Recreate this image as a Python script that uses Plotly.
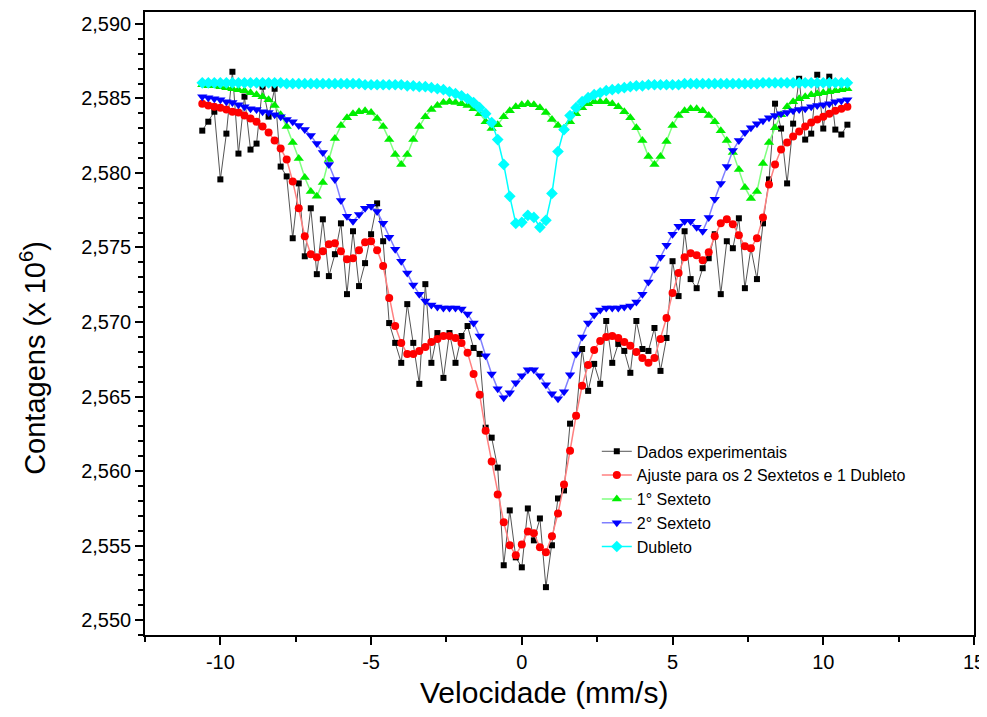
import plotly.graph_objects as go

velocidade = [
    -10.6, -10.4, -10.2, -10.0, -9.8, -9.6, -9.4, -9.2, -9.0, -8.8,
    -8.6, -8.4, -8.2, -8.0, -7.8, -7.6, -7.4, -7.2, -7.0, -6.8,
    -6.6, -6.4, -6.2, -6.0, -5.8, -5.6, -5.4, -5.2, -5.0, -4.8,
    -4.6, -4.4, -4.2, -4.0, -3.8, -3.6, -3.4, -3.2, -3.0, -2.8,
    -2.6, -2.4, -2.2, -2.0, -1.8, -1.6, -1.4, -1.2, -1.0, -0.8,
    -0.6, -0.4, -0.2, 0.0, 0.2, 0.4, 0.6, 0.8, 1.0, 1.2,
    1.4, 1.6, 1.8, 2.0, 2.2, 2.4, 2.6, 2.8, 3.0, 3.2,
    3.4, 3.6, 3.8, 4.0, 4.2, 4.4, 4.6, 4.8, 5.0, 5.2,
    5.4, 5.6, 5.8, 6.0, 6.2, 6.4, 6.6, 6.8, 7.0, 7.2,
    7.4, 7.6, 7.8, 8.0, 8.2, 8.4, 8.6, 8.8, 9.0, 9.2,
    9.4, 9.6, 9.8, 10.0, 10.2, 10.4, 10.6, 10.8,
]

dados_experimentais = [
    2.58284, 2.58344, 2.58411, 2.57957, 2.58264, 2.58679, 2.58130, 2.58512, 2.58157, 2.58197,
    2.58579, 2.58378, 2.58565, 2.58043, 2.57977, 2.57562, 2.57930, 2.57441, 2.57763, 2.57321,
    2.57689, 2.57308, 2.57455, 2.57662, 2.57187, 2.57609, 2.57241, 2.57395, 2.57589, 2.57796,
    2.57542, 2.56993, 2.56860, 2.56726, 2.57120, 2.56860, 2.56585, 2.57254, 2.56726, 2.56926,
    2.56625, 2.56926, 2.56726, 2.56906, 2.56973, 2.56826, 2.56786, 2.56291, 2.56224, 2.56023,
    2.55368, 2.55736, 2.55421, 2.55354, 2.55749, 2.55535, 2.55682, 2.55221, 2.55502, 2.55816,
    2.55870, 2.56318, 2.56371, 2.56819, 2.56538, 2.56719, 2.56585, 2.57007, 2.56726, 2.56853,
    2.56806, 2.56659, 2.57007, 2.56819, 2.56806, 2.56960, 2.56672, 2.56893, 2.57408, 2.57174,
    2.57609, 2.57288, 2.57227, 2.57361, 2.57428, 2.57589, 2.57187, 2.57542, 2.57495, 2.57696,
    2.57227, 2.57495, 2.57288, 2.57662, 2.57957, 2.58465, 2.58298, 2.57930, 2.58331, 2.58632,
    2.58224, 2.58264, 2.58659, 2.58298, 2.58646, 2.58291, 2.58258, 2.58324,
]

ajuste_total = [
    2.58465, 2.58452, 2.58445, 2.58438, 2.58425, 2.58411, 2.58405, 2.58385, 2.58365, 2.58344,
    2.58311, 2.58271, 2.58217, 2.58164, 2.58090, 2.57943, 2.57763, 2.57575, 2.57455, 2.57435,
    2.57475, 2.57522, 2.57528, 2.57475, 2.57421, 2.57428, 2.57482, 2.57535, 2.57542, 2.57482,
    2.57375, 2.57161, 2.56973, 2.56860, 2.56786, 2.56786, 2.56806, 2.56833, 2.56866, 2.56886,
    2.56906, 2.56906, 2.56893, 2.56860, 2.56793, 2.56652, 2.56512, 2.56271, 2.56064, 2.55843,
    2.55656, 2.55502, 2.55435, 2.55508, 2.55595, 2.55582, 2.55488, 2.55455, 2.55562, 2.55716,
    2.55910, 2.56137, 2.56371, 2.56572, 2.56712, 2.56813, 2.56873, 2.56900, 2.56906, 2.56893,
    2.56866, 2.56840, 2.56799, 2.56759, 2.56726, 2.56759, 2.56886, 2.57027, 2.57194, 2.57328,
    2.57435, 2.57462, 2.57448, 2.57415, 2.57468, 2.57575, 2.57662, 2.57689, 2.57656, 2.57582,
    2.57508, 2.57495, 2.57562, 2.57702, 2.57923, 2.58057, 2.58157, 2.58204, 2.58244, 2.58278,
    2.58311, 2.58338, 2.58358, 2.58378, 2.58398, 2.58418, 2.58431, 2.58445,
]

sexteto_1 = [
    2.58592, 2.58585, 2.58585, 2.58579, 2.58572, 2.58565, 2.58559, 2.58552, 2.58538, 2.58525,
    2.58512, 2.58492, 2.58452, 2.58391, 2.58311, 2.58204, 2.58097, 2.57970, 2.57876, 2.57843,
    2.57936, 2.58090, 2.58231, 2.58318, 2.58371, 2.58398, 2.58411, 2.58418, 2.58405, 2.58365,
    2.58311, 2.58224, 2.58124, 2.58057, 2.58124, 2.58224, 2.58311, 2.58378, 2.58425, 2.58452,
    2.58472, 2.58478, 2.58472, 2.58465, 2.58452, 2.58431, 2.58398, 2.58344, 2.58298, 2.58324,
    2.58378, 2.58418, 2.58445, 2.58458, 2.58465, 2.58458, 2.58438, 2.58405, 2.58358, 2.58318,
    2.58298, 2.58344, 2.58398, 2.58438, 2.58465, 2.58478, 2.58478, 2.58478, 2.58465, 2.58445,
    2.58411, 2.58371, 2.58304, 2.58217, 2.58110, 2.58057, 2.58110, 2.58211, 2.58318, 2.58385,
    2.58418, 2.58431, 2.58431, 2.58418, 2.58385, 2.58344, 2.58284, 2.58217, 2.58137, 2.58023,
    2.57903, 2.57829, 2.57876, 2.58064, 2.58204, 2.58304, 2.58391, 2.58445, 2.58478, 2.58498,
    2.58512, 2.58525, 2.58532, 2.58538, 2.58545, 2.58552, 2.58559, 2.58565,
]

sexteto_2 = [
    2.58512, 2.58505, 2.58498, 2.58492, 2.58478, 2.58472, 2.58458, 2.58445, 2.58431, 2.58425,
    2.58411, 2.58405, 2.58391, 2.58378, 2.58358, 2.58344, 2.58318, 2.58291, 2.58251, 2.58197,
    2.58137, 2.58057, 2.57957, 2.57816, 2.57709, 2.57676, 2.57722, 2.57763, 2.57776, 2.57742,
    2.57662, 2.57569, 2.57488, 2.57408, 2.57328, 2.57248, 2.57187, 2.57141, 2.57114, 2.57100,
    2.57094, 2.57094, 2.57094, 2.57087, 2.57054, 2.56993, 2.56906, 2.56773, 2.56652, 2.56552,
    2.56492, 2.56525, 2.56592, 2.56639, 2.56679, 2.56679, 2.56639, 2.56579, 2.56518, 2.56485,
    2.56532, 2.56646, 2.56786, 2.56900, 2.56993, 2.57047, 2.57080, 2.57094, 2.57094, 2.57094,
    2.57100, 2.57107, 2.57134, 2.57187, 2.57268, 2.57355, 2.57435, 2.57515, 2.57589, 2.57642,
    2.57676, 2.57676, 2.57635, 2.57609, 2.57702, 2.57823, 2.57930, 2.58043, 2.58150, 2.58217,
    2.58271, 2.58304, 2.58331, 2.58351, 2.58371, 2.58385, 2.58398, 2.58405, 2.58418, 2.58425,
    2.58431, 2.58445, 2.58452, 2.58458, 2.58465, 2.58478, 2.58485, 2.58492,
]

dubleto = [
    2.58605, 2.58605, 2.58605, 2.58605, 2.58605, 2.58605, 2.58605, 2.58605, 2.58605, 2.58605,
    2.58605, 2.58605, 2.58605, 2.58605, 2.58599, 2.58599, 2.58599, 2.58599, 2.58599, 2.58599,
    2.58599, 2.58599, 2.58599, 2.58599, 2.58599, 2.58599, 2.58599, 2.58592, 2.58592, 2.58592,
    2.58592, 2.58592, 2.58592, 2.58592, 2.58585, 2.58585, 2.58579, 2.58579, 2.58572, 2.58565,
    2.58559, 2.58545, 2.58532, 2.58518, 2.58498, 2.58472, 2.58438, 2.58398, 2.58338, 2.58224,
    2.58057, 2.57843, 2.57662, 2.57669, 2.57716, 2.57702, 2.57635, 2.57682, 2.57863, 2.58144,
    2.58291, 2.58385, 2.58438, 2.58478, 2.58505, 2.58525, 2.58538, 2.58552, 2.58559, 2.58565,
    2.58572, 2.58579, 2.58585, 2.58585, 2.58592, 2.58592, 2.58592, 2.58592, 2.58592, 2.58592,
    2.58599, 2.58599, 2.58599, 2.58599, 2.58599, 2.58599, 2.58599, 2.58599, 2.58599, 2.58599,
    2.58599, 2.58599, 2.58599, 2.58605, 2.58605, 2.58605, 2.58605, 2.58605, 2.58605, 2.58605,
    2.58605, 2.58605, 2.58605, 2.58605, 2.58605, 2.58605, 2.58605, 2.58605,
]

x_tick_vals = [-10, -5, 0, 5, 10, 15]
x_tick_text = ["-10", "-5", "0", "5", "10", "15"]

FONT = "Liberation Sans, Arial, sans-serif"

fig = go.Figure()

fig.add_trace(go.Scatter(
    x=velocidade, y=dados_experimentais, mode="lines+markers",
    name="Dados experimentais",
    line=dict(color="#555555", width=1),
    marker=dict(symbol="square", size=6, color="black"),
))
fig.add_trace(go.Scatter(
    x=velocidade, y=ajuste_total, mode="lines+markers",
    name="Ajuste para os 2 Sextetos e 1 Dubleto",
    line=dict(color="#FF8080", width=1.5),
    marker=dict(symbol="circle", size=8, color="#FF0000"),
))
fig.add_trace(go.Scatter(
    x=velocidade, y=sexteto_1, mode="lines+markers",
    name="1° Sexteto",
    line=dict(color="#80FF80", width=1.5),
    marker=dict(symbol="triangle-up", size=9, color="#00EE00"),
))
fig.add_trace(go.Scatter(
    x=velocidade, y=sexteto_2, mode="lines+markers",
    name="2° Sexteto",
    line=dict(color="#8080FF", width=1.5),
    marker=dict(symbol="triangle-down", size=9, color="#0000FF"),
))
fig.add_trace(go.Scatter(
    x=velocidade, y=dubleto, mode="lines+markers",
    name="Dubleto",
    line=dict(color="#00FFFF", width=1.5),
    marker=dict(symbol="diamond", size=9, color="#00FFFF"),
))

fig.update_layout(
    width=979, height=709,
    margin=dict(l=137, r=12, t=2, b=82),
    paper_bgcolor="white", plot_bgcolor="white",
    separators=",.",
    font=dict(family=FONT, color="black"),
    showlegend=True,
    legend=dict(
        x=0.545, y=0.322, xanchor="left", yanchor="top",
        bgcolor="rgba(0,0,0,0)", font=dict(size=16, family=FONT),
        tracegroupgap=0,
    ),
    annotations=[
        dict(text="Velocidade (mm/s)", xref="paper", yref="paper",
             x=0.4807, y=-0.093, xanchor="center", yanchor="middle",
             showarrow=False, font=dict(size=30, family=FONT)),
        dict(text="Contagens (x 10<sup>6</sup>)", xref="paper", yref="paper",
             x=-0.135, y=0.445, xanchor="center", yanchor="middle",
             textangle=-90, showarrow=False, font=dict(size=29, family=FONT)),
    ],
)

fig.update_xaxes(
    range=[-12.5, 15],
    tickmode="array", tickvals=x_tick_vals, ticktext=x_tick_text,
    ticks="outside", ticklen=8, tickwidth=1.5, tickcolor="black",
    showline=True, linewidth=1.5, linecolor="black", mirror=True,
    showgrid=False, zeroline=False,
    tickfont=dict(size=20, family=FONT),
    minor=dict(tickmode="linear", tick0=0, dtick=2.5, ticks="outside",
               ticklen=5, tickwidth=1.5, tickcolor="black"),
)

fig.update_yaxes(
    range=[2.549, 2.5908],
    tick0=2.55, dtick=0.005, tickformat=".3f",
    ticks="outside", ticklen=8, tickwidth=1.5, tickcolor="black",
    showline=True, linewidth=1.5, linecolor="black", mirror=True,
    showgrid=False, zeroline=False,
    tickfont=dict(size=20, family=FONT),
    minor=dict(tick0=2.55, dtick=0.001, ticks="outside",
               ticklen=5, tickwidth=1.5, tickcolor="black"),
)

fig.write_html("out.html")
